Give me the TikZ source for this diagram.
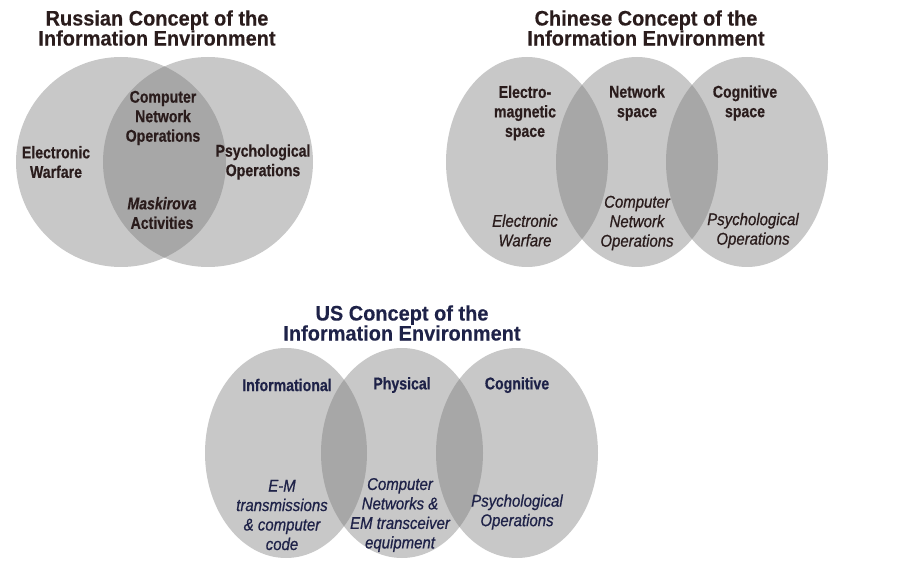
\documentclass[tikz,border=0pt]{standalone}
\usepackage{fontspec}
\setmainfont{Liberation Sans}
\newfontfamily\ttlfont[FakeStretch=0.95,FakeBold=0.3]{Liberation Sans}
\newfontfamily\labfont[FakeStretch=0.83,FakeBold=0.5]{Liberation Sans}
\newfontfamily\itlfont[FakeStretch=0.88,FakeBold=0.7]{Liberation Sans}
\definecolor{lite}{HTML}{C8C8C8}
\definecolor{dark}{HTML}{A7A7A7}
\definecolor{ink}{HTML}{2A1C1C}
\definecolor{navy}{HTML}{1E2248}
\tikzset{
  ttl/.style={font=\ttlfont\bfseries\fontsize{21}{20}\selectfont, align=center, text=ink, inner sep=0pt},
  bl/.style={font=\labfont\bfseries\fontsize{17}{19.5}\selectfont, align=center, text=ink, inner sep=0pt},
  il/.style={font=\itlfont\itshape\fontsize{17}{19.5}\selectfont, align=center, text=ink, inner sep=0pt},
  us/.style={text=navy},
  blob/.style={fill=lite, draw=none},
  lens/.style={fill=dark, draw=none}
}
\begin{document}
\begin{tikzpicture}[x=1pt,y=-1pt]
\useasboundingbox (0,0) rectangle (900,564);
% ---------- Russian ----------
\fill[blob] (121,162) circle (105);
\fill[blob] (208,162) circle (105);
\begin{scope}
  \clip (121,162) circle (105);
  \fill[lens] (208,162) circle (105);
\end{scope}
\node[ttl] (rtitle) at (157,28) {Russian Concept of the\\Information Environment};
\node[bl] (rcno) at (163,118) {Computer\\Network\\Operations};
\node[bl] (rew) at (56,162) {Electronic\\Warfare};
\node[bl] (rpo) at (263,162) {Psychological\\Operations};
\node[bl] (rmask) at (162,213) {\itshape Maskirova\\Activities};
% ---------- Chinese ----------
\fill[blob] (527,162) ellipse [x radius=81, y radius=105];
\fill[blob] (637,162) ellipse [x radius=81, y radius=105];
\fill[blob] (747,162) ellipse [x radius=81, y radius=105];
\begin{scope}
  \clip (637,162) ellipse [x radius=81, y radius=105];
  \fill[lens] (527,162) ellipse [x radius=81, y radius=105];
  \fill[lens] (747,162) ellipse [x radius=81, y radius=105];
\end{scope}
\node[ttl] (ctitle) at (646,28) {Chinese Concept of the\\Information Environment};
\node[bl] (cem) at (525,113) {Electro-\\magnetic\\space};
\node[bl] (cnet) at (637,103) {Network\\space};
\node[bl] (ccog) at (745,103) {Cognitive\\space};
\node[il] (cew) at (525,230.5) {Electronic\\Warfare};
\node[il] (ccno) at (637,223) {Computer\\Network\\Operations};
\node[il] (cpo) at (753,230.5) {Psychological\\Operations};
% ---------- US ----------
\fill[blob] (286,453) ellipse [x radius=81, y radius=105];
\fill[blob] (402,453) ellipse [x radius=81, y radius=105];
\fill[blob] (517,453) ellipse [x radius=81, y radius=105];
\begin{scope}
  \clip (402,453) ellipse [x radius=81, y radius=105];
  \fill[lens] (286,453) ellipse [x radius=81, y radius=105];
  \fill[lens] (517,453) ellipse [x radius=81, y radius=105];
\end{scope}
\node[ttl,us] (utitle) at (402,323) {US Concept of the\\Information Environment};
\node[bl,us] (uinf) at (287,385) {Informational};
\node[bl,us] (uphy) at (402,385) {Physical};
\node[bl,us] (ucog) at (517,385) {Cognitive};
\node[il,us] (uem) at (282,515) {E-M\\transmissions\\\& computer\\code};
\node[il,us] (ucn) at (400,515) {Computer\\Networks \&\\EM transceiver\\equipment};
\node[il,us] (upo) at (517,512) {Psychological\\Operations};
\end{tikzpicture}
\end{document}
